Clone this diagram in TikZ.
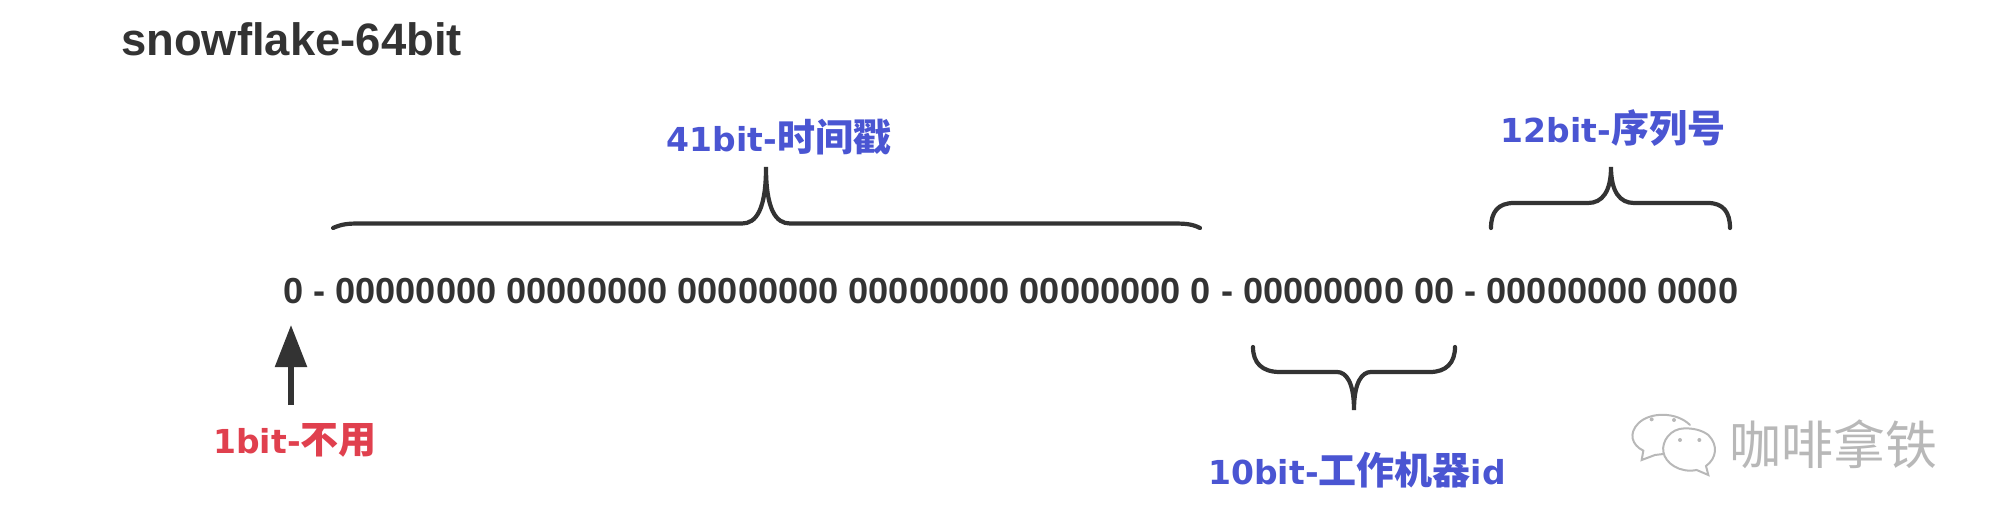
\documentclass[tikz,border=0pt]{standalone}
\usepackage{fontspec}
\setmainfont{Liberation Sans}
\newfontfamily\latfont{DejaVu Sans}
\newfontfamily\cjkfont{Noto Sans CJK SC}
\usetikzlibrary{arrows.meta,positioning}
\definecolor{inkgrey}{HTML}{333333}
\definecolor{bitblue}{HTML}{4A55D2}
\definecolor{bitred}{HTML}{E0404E}
\definecolor{markgrey}{HTML}{B8B8B8}
\newcommand{\bitlabel}[2]{{\fontsize{33pt}{36pt}\selectfont\latfont\bfseries #1}{\fontsize{38pt}{40pt}\selectfont\cjkfont\bfseries #2}}
\tikzset{
    curly/.style={
           draw=inkgrey,
           line width=4.2pt,
           line cap=round},
    pil/.style={
           -{Triangle[width=31pt,length=42pt]},
           draw=inkgrey,
           line width=5.5pt},
    bitlbl/.style={
           inner sep=0pt,
           anchor=center}
}

\begin{document}
\begin{tikzpicture}[x=1pt,y=-1pt]
          \useasboundingbox (0,0) rectangle (1992,532);
          % text
          \node[inner sep=0pt,anchor=west,text=inkgrey](title) at (121,39) {\fontsize{45.4pt}{50pt}\selectfont\bfseries snowflake-64bit};
          \node[inner sep=0pt,anchor=west,text=inkgrey](bits) at (283,291) {\fontsize{36.2pt}{40pt}\selectfont\bfseries 0 - 00000000 00000000 00000000 00000000 00000000 0 - 00000000 00 - 00000000 0000};
          \node[bitlbl,text=bitblue](stamp) at (779,137) {\bitlabel{41bit-}{时间戳}};
          \node[bitlbl,text=bitblue](serial) at (1613,128) {\bitlabel{12bit-}{序列号}};
          \node[bitlbl,text=bitblue](worker) at (1357,470) {\bitlabel{10bit-}{工作机器}\bitlabel{id}{}};
          \node[bitlbl,text=bitred](unused) at (295,440) {\bitlabel{1bit-}{不用}};
          % arrow
          \coordinate (arrowtail) at (291,405);
          \coordinate (arrowtip) at (291,325);
          \draw[pil] (arrowtail) -- (arrowtip);
          % braces
          \coordinate (stampl) at (333,228);
          \coordinate (stampt) at (766,167);
          \coordinate (stampr) at (1200,228);
          \draw[curly] (stampl) .. controls (342,224) and (348,223.5) .. (360,223.5) -- (742,223.5) .. controls (756,223.5) and (766,210) .. (stampt) .. controls (766,210) and (776,223.5) .. (790,223.5) -- (1172,223.5) .. controls (1186,223.5) and (1192,224) .. (stampr);
          \coordinate (seriall) at (1491,228);
          \coordinate (serialt) at (1611,167);
          \coordinate (serialr) at (1730,228);
          \draw[curly] (seriall) .. controls (1491,212) and (1498,203) .. (1514,203) -- (1588,203) .. controls (1602,203) and (1611,192) .. (serialt) .. controls (1611,192) and (1620,203) .. (1634,203) -- (1708,203) .. controls (1723,203) and (1730,212) .. (serialr);
          \coordinate (workerl) at (1253,347);
          \coordinate (workert) at (1354,410);
          \coordinate (workerr) at (1455,347);
          \draw[curly] (workerl) .. controls (1253,363) and (1262,372) .. (1280,372) -- (1337,372) .. controls (1346,372) and (1354,382) .. (workert) .. controls (1354,382) and (1362,372) .. (1371,372) -- (1430,372) .. controls (1446,372) and (1455,363) .. (workerr);
          % watermark
          \node[inner sep=0pt,anchor=west,text=markgrey](mark) at (1729,444) {\fontsize{52pt}{56pt}\selectfont\cjkfont 咖啡拿铁};
          \begin{scope}[shift={(1600,400)},x=0.3333pt,y=-0.3333pt,draw=markgrey,line width=2pt,line cap=round]
            \draw (270,75) .. controls (230,35) and (150,35) .. (115,70) .. controls (85,100) and (95,135) .. (130,152) -- (125,180) -- (165,165) -- (190,162);
            \draw (255,85) .. controls (210,85) and (185,125) .. (190,155) .. controls (195,190) and (240,220) .. (290,210) -- (325,225) -- (318,198) .. controls (350,175) and (355,135) .. (325,105) .. controls (305,90) and (280,85) .. (255,85);
            \fill[markgrey] (155,58) circle (6) (222,60) circle (6) (240,120) circle (6) (298,120) circle (6);
          \end{scope}
\end{tikzpicture}
\end{document}
